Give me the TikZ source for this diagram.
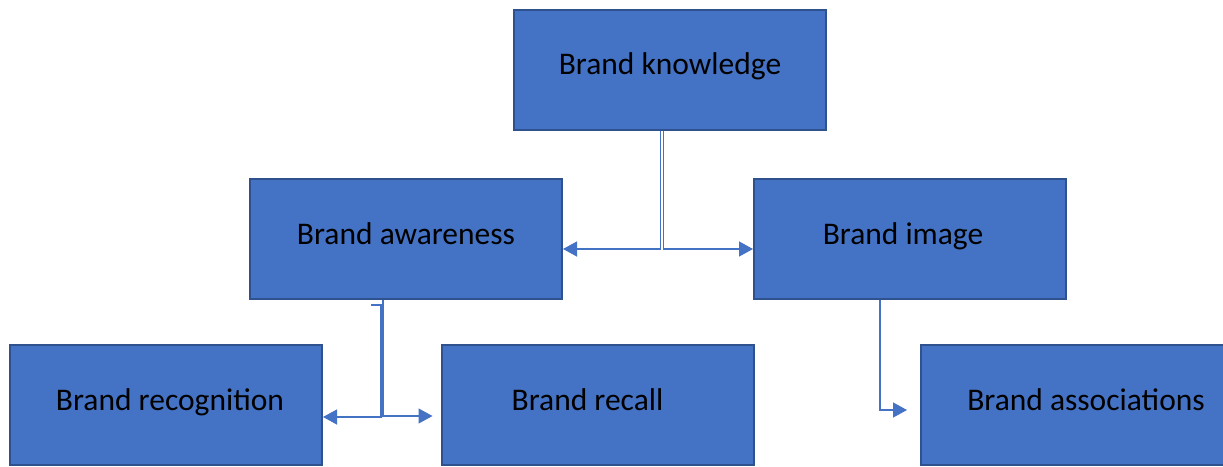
\documentclass[tikz,border=0pt]{standalone}
\usepackage{fontspec}
\setmainfont{Carlito}
\usetikzlibrary{arrows.meta}
\definecolor{boxfill}{HTML}{4472C4}
\definecolor{boxline}{HTML}{2F528F}
\definecolor{linkcol}{HTML}{4472C4}
\begin{document}
\begin{tikzpicture}[x=1pt,y=-1pt,
  block/.style={rectangle,draw=boxline,line width=2pt,fill=boxfill,
    minimum width=312pt,minimum height=120pt,inner sep=0pt,
    text height=22pt,text depth=12pt,
    font=\fontsize{31.5}{38}\selectfont,text=black},
  link/.style={draw=linkcol,line width=1.3pt,
    -{Triangle[length=14pt,width=15pt]}}]
\useasboundingbox (0,0) rectangle (1223,466);
\begin{scope}
\clip (0,0) rectangle (1223,466);
% boxes
\node[block] (bk) at (670,69.5) {Brand knowledge};
\node[block] (aw) at (406,239) {Brand awareness};
\node[block] (im) at (910,239) {\hspace*{-14pt}Brand image};
\node[block] (rg) at (166,405) {\hspace*{8pt}Brand recognition};
\node[block] (rc) at (597.5,405) {\hspace*{-20pt}Brand recall};
\node[block,minimum width=330pt] (as) at (1086,405) {Brand associations};
% turning points of the elbow connectors
\coordinate (bkL) at ([xshift=-9.5pt]bk.south);
\coordinate (bkR) at ([xshift=-6.5pt]bk.south);
\coordinate (awT) at ([xshift=-35pt,yshift=-5pt]aw.south);
\coordinate (awL) at ([xshift=-25pt]aw.south);
\coordinate (awR) at ([xshift=-23pt]aw.south);
\coordinate (imB) at ([xshift=-30pt]im.south);
% connectors
\draw[link] (bkL) |- ([yshift=-10pt]aw.east);
\draw[link] (bkR) |- ([yshift=-10pt]im.west);
\draw[link] (awT) -| ([yshift=-5pt]awL) |- ([yshift=-12pt]rg.east);
\draw[link,shorten >=8pt] (awR) |- ([yshift=-11pt]rc.west);
\draw[link,shorten >=13pt] (imB) |- ([yshift=-5pt]as.west);
\end{scope}
\end{tikzpicture}
\end{document}
